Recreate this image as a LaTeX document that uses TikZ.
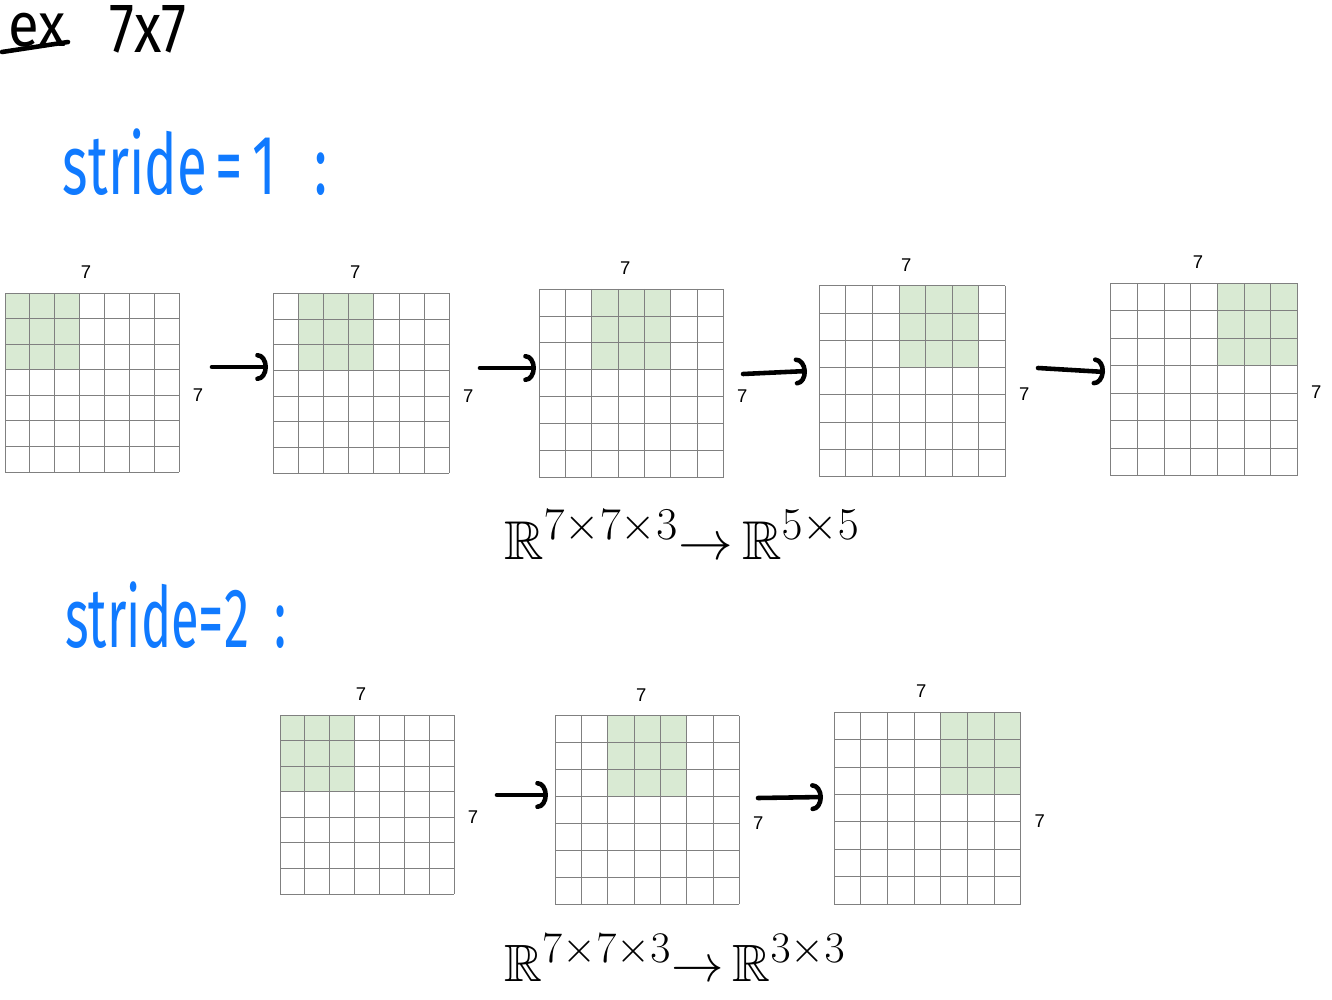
\documentclass[tikz,border=0pt]{standalone}
\usepackage{amssymb}
\usepackage{fontspec}
\setmainfont{Liberation Sans}
\newfontfamily\handfont{Fira Sans}
\usetikzlibrary{arrows.meta,calc,positioning}

\definecolor{handblue}{RGB}{16,122,255}
\definecolor{kernelgreen}{RGB}{217,234,211}

\tikzset{
  gridline/.style={draw=black!50, line width=0.5pt},
  kernel/.style={fill=kernelgreen},
  dimlabel/.style={inner sep=0pt, font=\fontsize{10.5}{12}\selectfont},
  handarrow/.style={line width=2.6pt, line cap=round,
    -{Arc Barb[length=6pt,width=16pt,round]}},
  handnote/.style={inner sep=0pt, text=handblue, font=\handfont\fontsize{32}{38}\selectfont},
  handmath/.style={inner sep=0pt, font=\fontsize{24.88}{30}\selectfont},
}

% name, left, top, cell width, cell height, first green column
\newcommand{\convgrid}[6]{
  \fill[kernel] ({#2+#6*#4},#3) rectangle ++({3*#4},{3*#5});
  \foreach \k in {0,...,7} {
    \draw[gridline] ({#2+\k*#4},#3) -- ++(0,{7*#5});
    \draw[gridline] (#2,{#3+\k*#5}) -- ++({7*#4},0);
  }
  \node[dimlabel] (#1w) at ({#2+3.5*#4-6},{#3-21}) {7};
  \node[dimlabel] (#1h) at ({#2+7*#4+19},{#3+3.5*#5+13}) {7};
}

\begin{document}
\begin{tikzpicture}[x=0.02cm, y=-0.02cm]
  \useasboundingbox (0,0) rectangle (1332,1000);

  % heading
  \node[handnote, text=black] (ex) at (37,30) {\scalebox{1}[1.1]{ex}};
  \node[handnote, text=black] (size) at (148,29) {\scalebox{1}[1.25]{7x7}};
  \draw[line width=2.6pt, line cap=round] (2,52) -- (68,42);

  % stride 1
  \node[handnote] (stride1) at (195,162) {\scalebox{0.97}[1.5]{stride\,=\,1\hspace{0.7em}:}};
  \convgrid{s1a}{5}{293}{24.86}{25.57}{0}
  \convgrid{s1b}{273.3}{293.3}{25.14}{25.71}{1}
  \convgrid{s1c}{539.3}{289}{26.29}{26.96}{2}
  \convgrid{s1d}{819.3}{285.7}{26.57}{27.29}{3}
  \convgrid{s1e}{1110.7}{283.3}{26.66}{27.49}{4}

  \coordinate (a1s) at (212,367);  \coordinate (a1e) at (268,367);
  \coordinate (a2s) at (480,368);  \coordinate (a2e) at (536,368);
  \coordinate (a3s) at (743,374);  \coordinate (a3e) at (807,371);
  \coordinate (a4s) at (1038,368); \coordinate (a4e) at (1105,372);
  \draw[handarrow] (a1s) -- (a1e);
  \draw[handarrow] (a2s) -- (a2e);
  \draw[handarrow] (a3s) -- (a3e);
  \draw[handarrow] (a4s) -- (a4e);

  \node[handmath] (map1) at (682,535)
    {\scalebox{1.25}{$\mathbb{R}^{7\times7\times3}{\to}\,\mathbb{R}^{5\times5}$}};

  % stride 2
  \node[handnote] (stride2) at (176,615) {\scalebox{0.9}[1.5]{stride=2\hspace{0.5em}:}};
  \convgrid{s2a}{280}{715}{24.86}{25.57}{0}
  \convgrid{s2b}{555}{715.7}{26.33}{26.94}{2}
  \convgrid{s2c}{834}{712.3}{26.67}{27.39}{4}

  \coordinate (b1s) at (497,795); \coordinate (b1e) at (548,795);
  \coordinate (b2s) at (758,798); \coordinate (b2e) at (823,797);
  \draw[handarrow] (b1s) -- (b1e);
  \draw[handarrow] (b2s) -- (b2e);

  \node[handmath] (map2) at (675,958)
    {\scalebox{1.2}{$\mathbb{R}^{7\times7\times3}{\to}\,\mathbb{R}^{3\times3}$}};
\end{tikzpicture}
\end{document}
